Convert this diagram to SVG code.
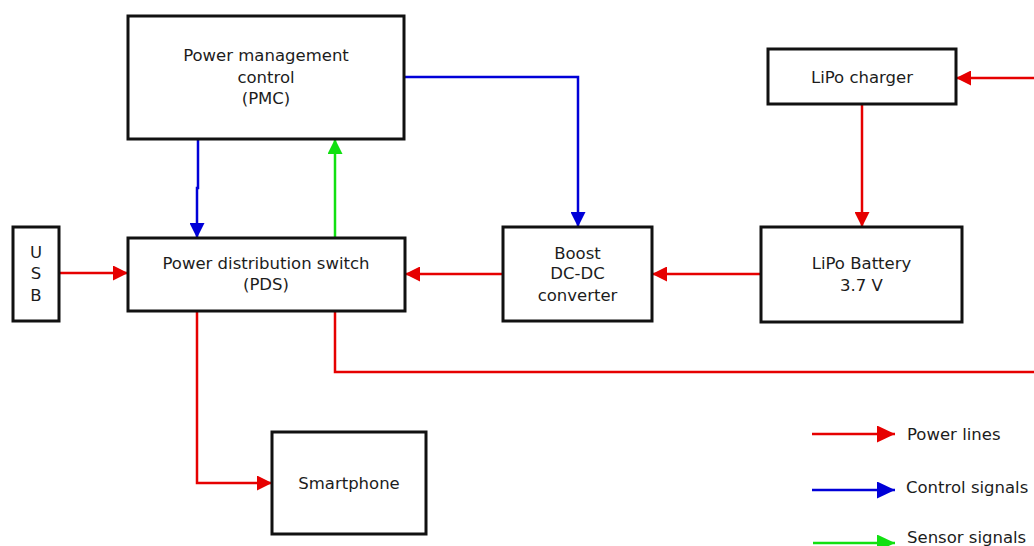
<svg xmlns="http://www.w3.org/2000/svg" width="1034" height="546" viewBox="0 0 1034 546">
<style>
.box{fill:#fff;stroke:#111;stroke-width:3}
.t{font-family:"DejaVu Sans",sans-serif;font-size:16.5px;fill:#1c1c1c;text-anchor:middle}
.lt{font-family:"DejaVu Sans",sans-serif;font-size:16.5px;fill:#1c1c1c;text-anchor:start}
.c{fill:none;stroke-width:2.5}
.red{stroke:#e60000}
.blue{stroke:#0000d8}
.green{stroke:#11e011}
</style>
<defs>
<marker id="ar" viewBox="0 0 15 15" refX="15" refY="7.5" markerWidth="15" markerHeight="15" markerUnits="userSpaceOnUse" orient="auto"><path d="M0,0 L15,7.5 L0,15 z" fill="#e60000"/></marker>
<marker id="ab" viewBox="0 0 15 15" refX="15" refY="7.5" markerWidth="15" markerHeight="15" markerUnits="userSpaceOnUse" orient="auto"><path d="M0,0 L15,7.5 L0,15 z" fill="#0000d8"/></marker>
<marker id="ag" viewBox="0 0 15 15" refX="15" refY="7.5" markerWidth="15" markerHeight="15" markerUnits="userSpaceOnUse" orient="auto"><path d="M0,0 L15,7.5 L0,15 z" fill="#11e011"/></marker>
<marker id="lar" viewBox="0 0 18 17" refX="18" refY="8.5" markerWidth="18" markerHeight="17" markerUnits="userSpaceOnUse" orient="auto"><path d="M0,0 L18,8.5 L0,17 z" fill="#e60000"/></marker>
<marker id="lab" viewBox="0 0 18 17" refX="18" refY="8.5" markerWidth="18" markerHeight="17" markerUnits="userSpaceOnUse" orient="auto"><path d="M0,0 L18,8.5 L0,17 z" fill="#0000d8"/></marker>
<marker id="lag" viewBox="0 0 18 17" refX="18" refY="8.5" markerWidth="18" markerHeight="17" markerUnits="userSpaceOnUse" orient="auto"><path d="M0,0 L18,8.5 L0,17 z" fill="#11e011"/></marker>
</defs>
<rect width="1034" height="546" fill="#fff"/>
<g id="connectors">
<path class="c red" d="M59,273 H128" marker-end="url(#ar)"/>
<path class="c red" d="M503,274 H405" marker-end="url(#ar)"/>
<path class="c red" d="M761,274 H652" marker-end="url(#ar)"/>
<path class="c red" d="M862,104 V227" marker-end="url(#ar)"/>
<path class="c red" d="M1034,78 H956" marker-end="url(#ar)"/>
<path class="c red" d="M197,311 V483 H272" marker-end="url(#ar)"/>
<path class="c red" d="M335,311 V372 H1034"/>
<path class="c blue" d="M198,139 V188 H197 V238" marker-end="url(#ab)"/>
<path class="c blue" d="M404,77 H578 V227" marker-end="url(#ab)"/>
<path class="c green" d="M335,238 V139" marker-end="url(#ag)"/>
</g>
<g id="pmc"><rect class="box" x="128" y="16" width="276" height="123"/>
<text class="t" x="266" y="61">Power management</text><text class="t" x="266" y="83">control</text><text class="t" x="266" y="104">(PMC)</text></g>
<g id="pds"><rect class="box" x="128" y="238" width="277" height="73"/>
<text class="t" x="266" y="269">Power distribution switch</text><text class="t" x="266" y="290">(PDS)</text></g>
<g id="usb"><rect class="box" x="13" y="227" width="46" height="94"/>
<text class="t" x="36" y="258">U</text><text class="t" x="36" y="279">S</text><text class="t" x="36" y="301">B</text></g>
<g id="boost"><rect class="box" x="503" y="227" width="149" height="94"/>
<text class="t" x="577.5" y="259">Boost</text><text class="t" x="577.5" y="279">DC-DC</text><text class="t" x="577.5" y="301">converter</text></g>
<g id="charger"><rect class="box" x="768" y="49" width="188" height="55"/>
<text class="t" x="862" y="83">LiPo charger</text></g>
<g id="battery"><rect class="box" x="761" y="227" width="201" height="95"/>
<text class="t" x="861.5" y="269">LiPo Battery</text><text class="t" x="861.5" y="291">3.7 V</text></g>
<g id="smartphone"><rect class="box" x="272" y="432" width="154" height="102"/>
<text class="t" x="349" y="489">Smartphone</text></g>
<g id="legend">
<path class="c red" d="M812,434 H895" marker-end="url(#lar)"/>
<path class="c blue" d="M812,490 H895" marker-end="url(#lab)"/>
<path class="c green" d="M813,543 H895" marker-end="url(#lag)"/>
<text class="lt" x="907" y="440">Power lines</text>
<text class="lt" x="906" y="493">Control signals</text>
<text class="lt" x="907" y="543">Sensor signals</text>
</g>
</svg>
